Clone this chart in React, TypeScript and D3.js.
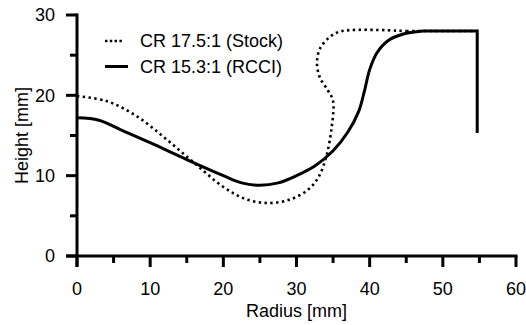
import React from 'react';
import * as d3 from 'd3';

// profile data (radius, height in mm)
const stockR = [0, 4, 8, 12, 16, 20, 23, 26, 29, 31.5, 33, 34.1, 34.8, 35.0, 34.3, 33.2, 32.8, 33.2, 34.6, 36.2, 45, 54.7];
const stockH = [19.9, 19.3, 17.5, 14.7, 11.6, 8.6, 7.1, 6.6, 7.0, 8.2, 9.8, 12.5, 16.0, 19.3, 20.6, 22.2, 24.0, 25.8, 27.3, 28, 28, 28];

const rcciR = [0, 3, 6, 10, 15, 20, 22.5, 25, 27.5, 30, 32.5, 35, 37, 38.5, 39.3, 40, 41, 42.5, 44.5, 47.3, 54.7, 54.7];
const rcciH = [17.2, 16.9, 15.7, 14.1, 12.0, 10.0, 9.1, 8.8, 9.1, 10.0, 11.2, 13.1, 15.4, 18.0, 20.6, 23.2, 25.3, 26.8, 27.6, 28, 28, 15.3];

const xTicks = [0, 10, 20, 30, 40, 50, 60];
const xMinor = [5, 15, 25, 35, 45, 55];
const yTicks = [0, 10, 20, 30];
const yMinor = [5, 15, 25];

const legendLabels = ['CR 17.5:1 (Stock)', 'CR 15.3:1 (RCCI)'];

const W = 526;
const H = 325;
const FONT = '"Liberation Sans", Arial, sans-serif';

export default function App() {
  const x = d3.scaleLinear().domain([0, 60]).range([77, 516]);
  const y = d3.scaleLinear().domain([0, 30]).range([256, 15]);

  const smooth = d3.line<[number, number]>()
    .x(d => x(d[0]))
    .y(d => y(d[1]))
    .curve(d3.curveCatmullRom.alpha(0.5));
  const straight = d3.line<[number, number]>()
    .x(d => x(d[0]))
    .y(d => y(d[1]));

  const stockPts: [number, number][] = stockR.map((r, i) => [r, stockH[i]]);
  const rcciPts: [number, number][] = rcciR.map((r, i) => [r, rcciH[i]]);
  // last corner (flat top + vertical drop) is drawn straight
  const cut = rcciPts.length - 3;
  const rcciCurve = rcciPts.slice(0, cut + 1);
  const rcciTail = rcciPts.slice(cut);
  const stockCut = stockPts.length - 2;

  const axisW = 3;

  return (
    <svg width={W} height={H} style={{position: 'absolute', left: 0, top: 0}} fontFamily={FONT}>
      <rect width={W} height={H} fill="#fff" />

      {/* curves */}
      <path d={smooth(stockPts.slice(0, stockCut + 1)) || ''} fill="none" stroke="#000"
            strokeWidth={2.6} strokeDasharray="2.4 3.4" />
      <path d={straight(stockPts.slice(stockCut)) || ''} fill="none" stroke="#000"
            strokeWidth={2.6} strokeDasharray="2.4 3.4" />
      <path d={smooth(rcciCurve) || ''} fill="none" stroke="#000" strokeWidth={3} strokeLinejoin="round" />
      <path d={straight(rcciTail) || ''} fill="none" stroke="#000" strokeWidth={3} strokeLinejoin="miter" />

      {/* x axis */}
      <line x1={x(0) - 11} x2={x(60) + 1.5} y1={y(0)} y2={y(0)} stroke="#000" strokeWidth={axisW} />
      {xTicks.map(t => (
        <g key={'xt' + t}>
          <line x1={x(t)} x2={x(t)} y1={y(0)} y2={y(0) + 11} stroke="#000" strokeWidth={axisW} />
          <text x={x(t)} y={295} textAnchor="middle" fontSize={18}>{t}</text>
        </g>
      ))}
      {xMinor.map(t => (
        <line key={'xm' + t} x1={x(t)} x2={x(t)} y1={y(0)} y2={y(0) + 7} stroke="#000" strokeWidth={axisW} />
      ))}
      <text x={(x(0) + x(60)) / 2} y={317} textAnchor="middle" fontSize={18}>Radius [mm]</text>

      {/* y axis */}
      <line x1={x(0)} x2={x(0)} y1={y(30) - 1.5} y2={y(0) + 11} stroke="#000" strokeWidth={axisW} />
      {yTicks.map(t => (
        <g key={'yt' + t}>
          <line x1={x(0) - 11} x2={x(0)} y1={y(t)} y2={y(t)} stroke="#000" strokeWidth={axisW} />
          <text x={55} y={y(t)} dy="0.36em" textAnchor="end" fontSize={18}>{t}</text>
        </g>
      ))}
      {yMinor.map(t => (
        <line key={'ym' + t} x1={x(0) - 7} x2={x(0)} y1={y(t)} y2={y(t)} stroke="#000" strokeWidth={axisW} />
      ))}
      <text transform={`translate(28,${(y(0) + y(30)) / 2}) rotate(-90)`} textAnchor="middle" fontSize={18}>
        Height [mm]
      </text>

      {/* legend */}
      <line x1={105} x2={124} y1={41} y2={41} stroke="#000" strokeWidth={2.6} strokeDasharray="2.4 2.4" />
      <text x={140} y={47} fontSize={18}>{legendLabels[0]}</text>
      <line x1={105} x2={128} y1={66.5} y2={66.5} stroke="#000" strokeWidth={3} />
      <text x={140} y={72.5} fontSize={18}>{legendLabels[1]}</text>
    </svg>
  );
}
